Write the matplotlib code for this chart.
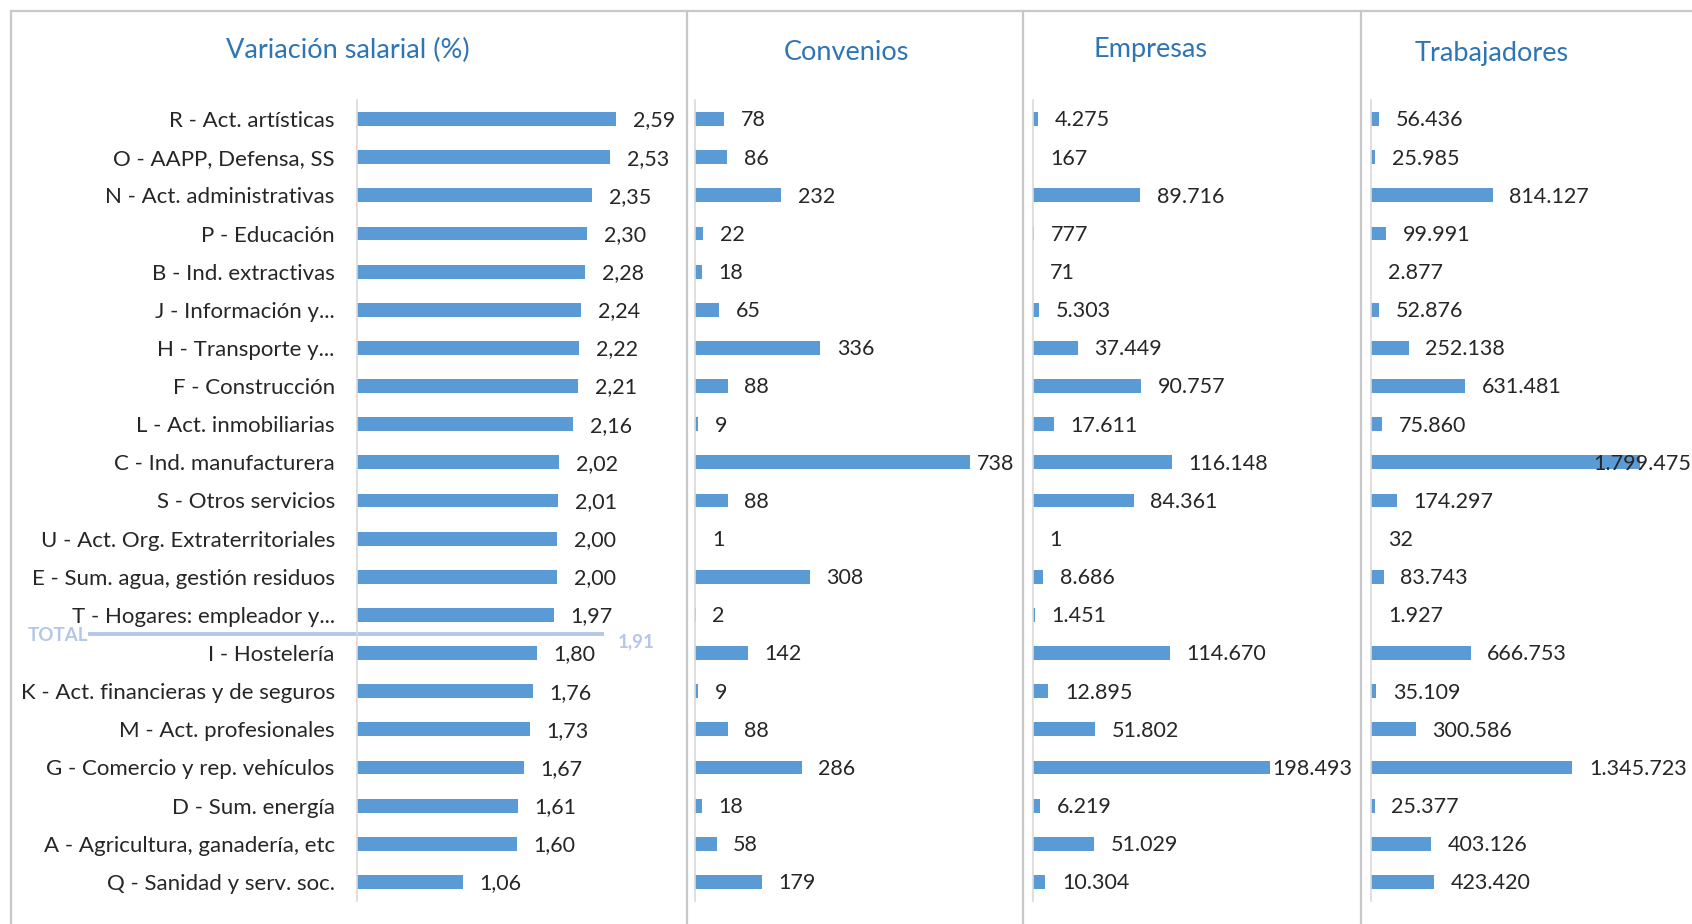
import matplotlib
matplotlib.use("Agg")
import matplotlib.pyplot as plt
from matplotlib.lines import Line2D
from matplotlib.transforms import blended_transform_factory

plt.rcParams['font.family'] = ['Lato', 'DejaVu Sans']

categories = [
    "R - Act. artísticas", "O - AAPP, Defensa, SS", "N - Act. administrativas",
    "P - Educación", "B - Ind. extractivas", "J - Información y...",
    "H - Transporte y...", "F - Construcción", "L - Act. inmobiliarias",
    "C - Ind. manufacturera", "S - Otros servicios", "U - Act. Org. Extraterritoriales",
    "E - Sum. agua, gestión residuos", "T - Hogares: empleador y...",
    "I - Hostelería", "K - Act. financieras y de seguros", "M - Act. profesionales",
    "G - Comercio y rep. vehículos", "D - Sum. energía",
    "A - Agricultura, ganadería, etc", "Q - Sanidad y serv. soc.",
]
variacion = [2.59, 2.53, 2.35, 2.30, 2.28, 2.24, 2.22, 2.21, 2.16, 2.02, 2.01,
             2.00, 2.00, 1.97, 1.80, 1.76, 1.73, 1.67, 1.61, 1.60, 1.06]
convenios = [78, 86, 232, 22, 18, 65, 336, 88, 9, 738, 88, 1, 308, 2, 142, 9,
             88, 286, 18, 58, 179]
empresas = [4275, 167, 89716, 777, 71, 5303, 37449, 90757, 17611, 116148, 84361,
            1, 8686, 1451, 114670, 12895, 51802, 198493, 6219, 51029, 10304]
trabajadores = [56436, 25985, 814127, 99991, 2877, 52876, 252138, 631481, 75860,
                1799475, 174297, 32, 83743, 1927, 666753, 35109, 300586, 1345723,
                25377, 403126, 423420]
total_variacion = 1.91
titles = ["Variación salarial (%)", "Convenios", "Empresas", "Trabajadores"]

W, H = 1692, 924
fig = plt.figure(figsize=(W / 100, H / 100), dpi=100)

BAR = '#5B9BD5'
TITLE_C = '#2E75B6'
TXT = '#262626'
GRID = '#D9D9D9'
FRAME = '#C8C8C8'
LIGHT = '#B4C7E7'
FS = 15.5


def fmt_dec(v):
    return f"{v:.2f}".replace('.', ',')


def fmt_int(v):
    return f"{v:,d}".replace(',', '.')


# panels: (left px, bar length px of max, data, formatter, title center px, title y px,
#          right boundary px, margin px)
panels = [
    (357, 259, variacion, fmt_dec, 348, 50, 687, 8),
    (695, 275, convenios, fmt_int, 846, 52, 1023, 9),
    (1033, 237, empresas, fmt_int, 1151, 50, 1361, 9),
    (1371, 269, trabajadores, fmt_int, 1492, 53, 1692, 1),
]
ax_w = 300
top_px, bot_px = 100, 901
n = len(categories)
ypos = list(range(n))

axes = []
labels = []
for i, (left, barlen, data, fmt, tcx, tcy, bound, marg) in enumerate(panels):
    ax = fig.add_axes([left / W, 1 - bot_px / H, ax_w / W, (bot_px - top_px) / H])
    xmax = max(data) * ax_w / barlen
    ax.barh(ypos, data, height=0.36, color=BAR)
    ax.set_xlim(0, xmax)
    ax.set_ylim(n - 0.5, -0.5)
    for s in ['top', 'right', 'bottom']:
        ax.spines[s].set_visible(False)
    ax.spines['left'].set_color(GRID)
    ax.spines['left'].set_linewidth(1.2)
    ax.set_xticks([])
    ax.tick_params(axis='y', length=0, pad=16)
    ax.patch.set_alpha(0)
    if i == 0:
        ax.set_yticks(ypos)
        ax.set_yticklabels(categories, fontsize=FS + 0.5, color=TXT)
    else:
        ax.set_yticks([])
    for y, v in zip(ypos, data):
        t = ax.annotate(fmt(v), xy=(v, y), xytext=(12, -1), textcoords='offset points',
                        ha='left', va='center', fontsize=FS, color=TXT,
                        annotation_clip=False)
        labels.append((t, bound, marg))
    fig.text(tcx / W, 1 - tcy / H, titles[i], ha='center', va='center',
             fontsize=19.5, color=TITLE_C)
    axes.append(ax)

# keep data labels inside their panel (as the original does)
fig.canvas.draw()
r = fig.canvas.get_renderer()
for t, bound, marg in labels:
    bb = t.get_window_extent(r)
    over = bb.x1 - (bound - marg)
    if over > 0:
        ox, oy = t.xyann
        t.xyann = (ox - over * 72 / fig.dpi, oy)

# TOTAL line
ax0 = axes[0]
ytot = sum(1 for v in variacion if v > total_variacion) - 0.5
tr = blended_transform_factory(fig.transFigure, ax0.transData)
ax0.add_line(Line2D([90 / W, 602 / W], [ytot, ytot], transform=tr, color=LIGHT,
                    lw=2.8, clip_on=False))
ax0.text(88 / W, ytot + 0.04, "TOTAL", transform=tr, ha='right', va='center',
         fontsize=13.5, fontweight='bold', color=LIGHT, clip_on=False)
ax0.text(618 / W, ytot + 0.2, fmt_dec(total_variacion), transform=tr, ha='left',
         va='center', fontsize=13.5, fontweight='bold', color=LIGHT, clip_on=False)

# frame lines
def fline(x0, y0, x1, y1):
    fig.add_artist(Line2D([x0 / W, x1 / W], [1 - y0 / H, 1 - y1 / H],
                          transform=fig.transFigure, color=FRAME, lw=1.6))

fline(11, 11, W, 11)
fline(11, 11, 11, H)
for xd in [687, 1023, 1361]:
    fline(xd, 11, xd, H)

fig.savefig("out.png", dpi=100, facecolor='white')
